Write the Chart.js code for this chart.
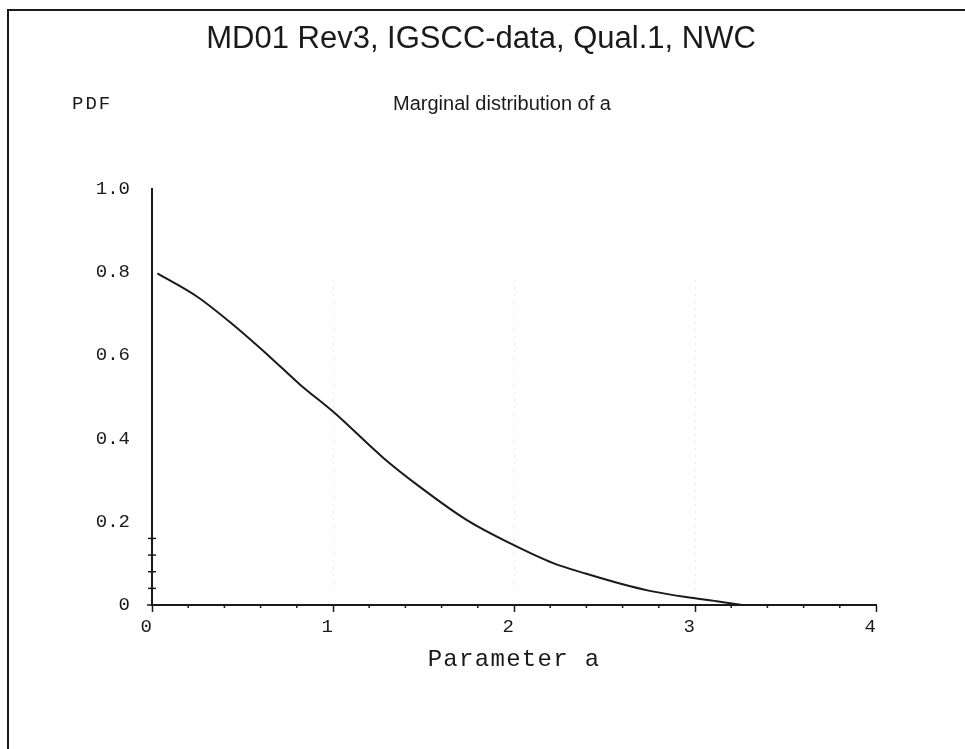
<!DOCTYPE html>
<html>
<head>
<meta charset="utf-8">
<title>Marginal distribution of a</title>
<script src="https://cdn.jsdelivr.net/npm/chart.js@4/dist/chart.umd.min.js"></script>
<style>
  html, body { margin: 0; padding: 0; background: #fff; }
  #chart { display: block; }
</style>
</head>
<body>
<canvas id="chart" width="965" height="749"></canvas>
<script>
// Data
const paramA = [0.03, 0.25, 0.45, 0.65, 0.82, 1.0, 1.28, 1.48, 1.74, 1.98, 2.22, 2.4, 2.59, 2.75, 2.95, 3.12, 3.26];
const pdfValues = [0.797, 0.741, 0.673, 0.597, 0.529, 0.465, 0.353, 0.284, 0.204, 0.148, 0.100, 0.075, 0.051, 0.034, 0.019, 0.009, 0.0];

// Axis decoration
const xTickLabels = [0, 1, 2, 3, 4];
const xMinorTicks = [0.2, 0.4, 0.6, 0.8, 1.2, 1.4, 1.6, 1.8, 2.2, 2.4, 2.6, 2.8, 3.2, 3.4, 3.6, 3.8];
const xGridLines = [1, 2, 3];
const yTickLabels = [0, 0.2, 0.4, 0.6, 0.8, 1.0];
const yMinorTicks = [0.04, 0.08, 0.12, 0.16];

const mainTitle = 'MD01 Rev3, IGSCC-data, Qual.1, NWC';
const subTitle = 'Marginal distribution of a';
const yLabel = 'PDF';
const xLabel = 'Parameter a';

const INK = '#1a1a1a';
const MONO = '"Liberation Mono", "Courier New", monospace';

// Draws the frame, the texts and the little extra ticks
const decorations = {
    id: 'decorations',
    beforeDatasetsDraw(chart) {
        const { ctx, scales: { x, y } } = chart;
        ctx.save();
        // faint dotted grid lines
        ctx.strokeStyle = 'rgba(0,0,0,0.18)';
        ctx.lineWidth = 1;
        ctx.setLineDash([1, 6]);
        xGridLines.forEach(v => {
            const px = Math.round(x.getPixelForValue(v)) + 0.5;
            ctx.beginPath();
            ctx.moveTo(px, y.getPixelForValue(0.78));
            ctx.lineTo(px, y.getPixelForValue(0.03));
            ctx.stroke();
        });
        ctx.restore();
    },
    afterDraw(chart) {
        const { ctx, scales: { x, y } } = chart;
        ctx.save();

        // frame (left and top edges only)
        ctx.strokeStyle = INK;
        ctx.lineWidth = 2;
        ctx.beginPath();
        ctx.moveTo(8, 749);
        ctx.lineTo(8, 10);
        ctx.lineTo(965, 10);
        ctx.stroke();

        // minor ticks on x axis
        const y0 = y.getPixelForValue(0);
        ctx.lineWidth = 1.5;
        xMinorTicks.forEach(v => {
            const px = x.getPixelForValue(v);
            ctx.beginPath();
            ctx.moveTo(px, y0);
            ctx.lineTo(px, y0 + 3);
            ctx.stroke();
        });
        // short stub of x axis left of the y axis
        ctx.beginPath();
        ctx.moveTo(x.getPixelForValue(0) - 5, y0);
        ctx.lineTo(x.getPixelForValue(0), y0);
        ctx.stroke();

        // minor cross ticks on y axis
        const x0 = x.getPixelForValue(0);
        yMinorTicks.forEach(v => {
            const py = y.getPixelForValue(v);
            ctx.beginPath();
            ctx.moveTo(x0 - 4, py);
            ctx.lineTo(x0 + 4, py);
            ctx.stroke();
        });

        ctx.fillStyle = INK;
        ctx.textBaseline = 'middle';

        // main title
        ctx.textAlign = 'center';
        ctx.font = '31px "Liberation Sans", Arial, sans-serif';
        ctx.fillText(mainTitle, 481, 39);

        // subtitle
        ctx.font = '20px "Liberation Sans", Arial, sans-serif';
        ctx.fillText(subTitle, 502, 104);

        // y label
        ctx.textAlign = 'left';
        ctx.font = '19px ' + MONO;
        ctx.letterSpacing = '2px';
        ctx.fillText(yLabel, 72, 104);

        // x label
        ctx.textAlign = 'center';
        ctx.font = '24px ' + MONO;
        ctx.letterSpacing = '1.3px';
        ctx.fillText(xLabel, (x.left + x.right) / 2, 660);

        ctx.restore();
    }
};

new Chart(document.getElementById('chart'), {
    type: 'scatter',
    data: {
        datasets: [{
            label: 'PDF',
            data: paramA.map((a, i) => ({ x: a, y: pdfValues[i] })),
            showLine: true,
            borderColor: INK,
            borderWidth: 2,
            pointRadius: 0,
            cubicInterpolationMode: 'monotone',
            fill: false
        }]
    },
    options: {
        responsive: false,
        animation: false,
        layout: { padding: { left: 0, top: 189, right: 89, bottom: 0 } },
        plugins: {
            legend: { display: false },
            title: { display: false },
            tooltip: { enabled: false }
        },
        scales: {
            x: {
                type: 'linear',
                min: 0,
                max: 4,
                afterFit: s => { s.height = 144; },
                afterBuildTicks: s => { s.ticks = xTickLabels.map(v => ({ value: v })); },
                ticks: {
                    color: INK,
                    padding: 4,
                    maxRotation: 0,
                    font: { family: MONO, size: 19 },
                    callback: v => v + ' '
                },
                grid: {
                    drawOnChartArea: false,
                    drawTicks: true,
                    tickLength: 7,
                    tickColor: INK,
                    tickWidth: 1.5
                },
                border: { display: true, color: INK, width: 2 }
            },
            y: {
                type: 'linear',
                min: 0,
                max: 1,
                afterFit: s => { s.width = 152; },
                afterBuildTicks: s => { s.ticks = yTickLabels.map(v => ({ value: v })); },
                ticks: {
                    color: INK,
                    padding: 22,
                    font: { family: MONO, size: 19 },
                    callback: v => v === 0 ? '0' : v.toFixed(1)
                },
                grid: { display: false, drawTicks: false },
                border: { display: true, color: INK, width: 2 }
            }
        }
    },
    plugins: [decorations]
});
</script>
</body>
</html>
